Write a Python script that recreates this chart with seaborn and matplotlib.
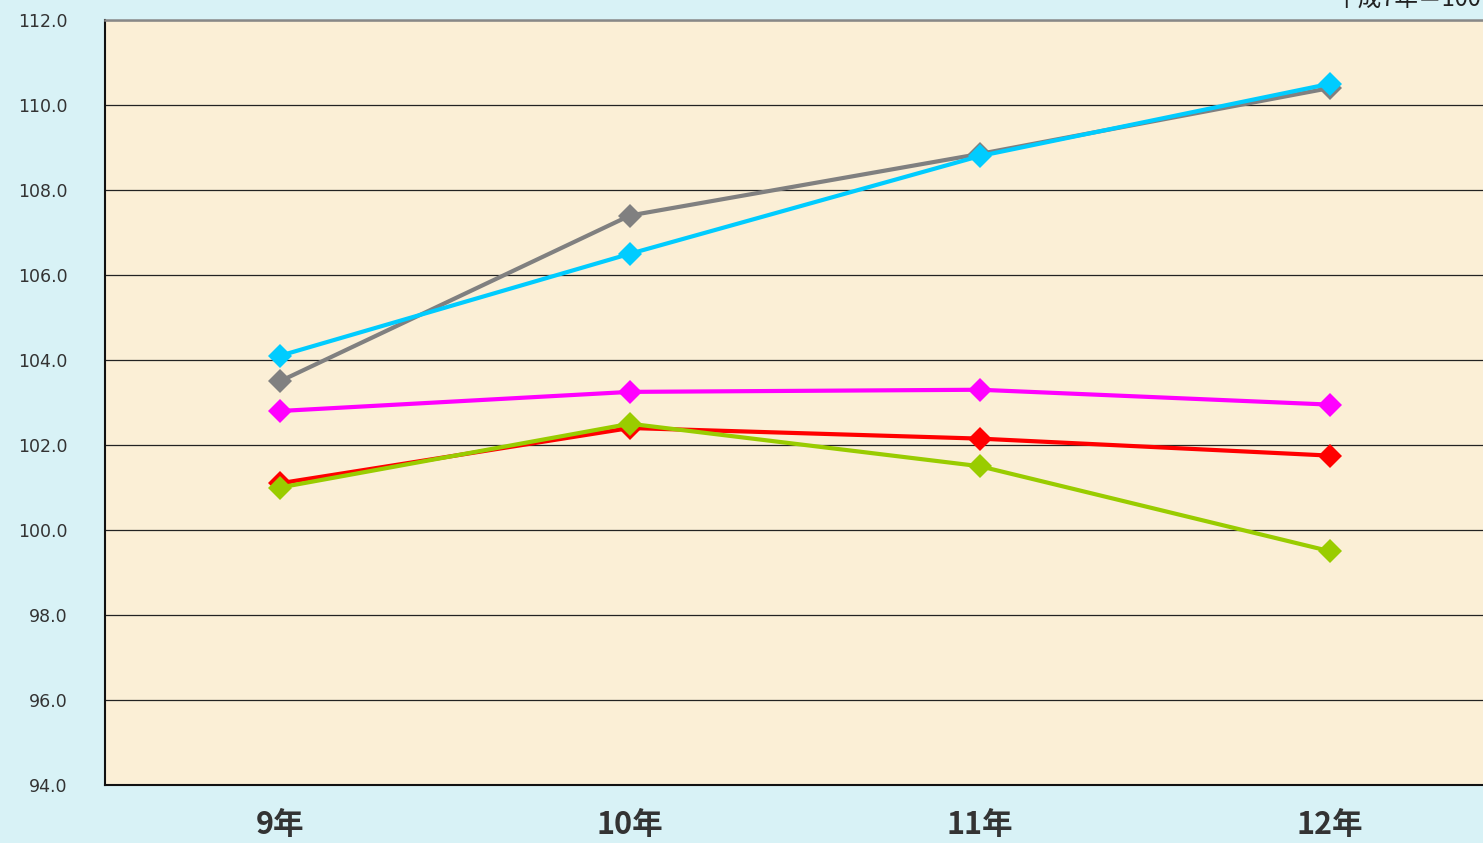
import matplotlib
matplotlib.use("Agg")
import matplotlib.pyplot as plt
import seaborn as sns
import pandas as pd
import numpy as np

# ---- data ----
categories = ["9年", "10年", "11年", "12年"]
red_vals = [101.1, 102.4, 102.15, 101.75]
green_vals = [101.0, 102.5, 101.5, 99.5]
magenta_vals = [102.8, 103.25, 103.3, 102.95]
gray_vals = [103.5, 107.4, 108.85, 110.4]
cyan_vals = [104.1, 106.5, 108.8, 110.5]
y_ticks = [94.0, 96.0, 98.0, 100.0, 102.0, 104.0, 106.0, 108.0, 110.0, 112.0]
note = "平成7年＝100"

series = [
    ("red", red_vals, "#FF0000"),
    ("green", green_vals, "#99CC00"),
    ("magenta", magenta_vals, "#FF00FF"),
    ("gray", gray_vals, "#808080"),
    ("cyan", cyan_vals, "#00CCFF"),
]

sns.set_theme(style="white")
plt.rcParams['font.family'] = ['Noto Sans CJK JP', 'DejaVu Sans']

W, H = 1483, 843
fig = plt.figure(figsize=(W / 100, H / 100), dpi=100)
fig.patch.set_facecolor("#D8F2F6")

# axes placement (plot area extends past right edge as in reference)
left_px, right_px, top_px, bottom_px = 105, 1505, 20, 785
ax = fig.add_axes([left_px / W, (H - bottom_px) / H,
                   (right_px - left_px) / W, (bottom_px - top_px) / H])
ax.set_facecolor("#FBEFD6")

x = np.arange(len(categories))
for name, vals, col in series:
    df = pd.DataFrame({"x": x, "y": vals})
    sns.lineplot(data=df, x="x", y="y", ax=ax, color=col, linewidth=3.0,
                 marker="D", markersize=12, markeredgewidth=0,
                 markerfacecolor=col, sort=False, zorder=3)

ax.set_xlim(-0.5, 3.5)
ax.set_ylim(94, 112)
ax.set_yticks(y_ticks)
ax.set_yticklabels([f"{v:.1f}" for v in y_ticks], fontsize=12.5,
                   color="#333333", family="DejaVu Sans")
ax.set_xticks(x)
ax.set_xticklabels(categories, fontsize=22, fontweight="bold", color="#333333")
ax.set_xticks(np.arange(-0.5, 3.6, 1.0), minor=True)
ax.tick_params(axis="x", which="major", direction="in", length=6, width=1,
               color="#222222", pad=17)
ax.tick_params(axis="x", which="minor", direction="in", length=8, width=1,
               color="#222222")
ax.tick_params(axis="y", which="both", length=0, pad=27)

ax.grid(axis="y", color="#222222", linewidth=0.9)
ax.grid(axis="x", visible=False)
ax.set_axisbelow(True)
ax.set_xlabel("")
ax.set_ylabel("")

for side in ["left", "bottom"]:
    ax.spines[side].set_color("#111111")
    ax.spines[side].set_linewidth(1.5)
ax.spines["top"].set_color("#888888")
ax.spines["top"].set_linewidth(1.8)
ax.spines["right"].set_visible(False)

fig.text(1335 / W, 1 - 7 / H, note, fontsize=17, color="#222222",
         ha="left", va="baseline")

fig.savefig("out.png", dpi=100, facecolor=fig.get_facecolor())
